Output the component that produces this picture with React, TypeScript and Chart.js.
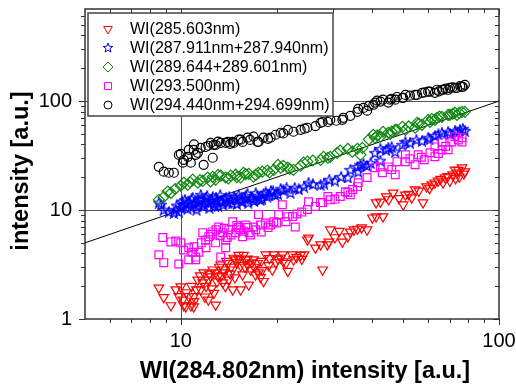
import React, { useEffect, useRef } from 'react';
import { Chart, registerables } from 'chart.js';

Chart.register(...registerables);

const FONT = "'Liberation Sans', Arial, sans-serif";

const seriesLabels = [
  'WI(285.603nm)',
  'WI(287.911nm+287.940nm)',
  'WI(289.644+289.601nm)',
  'WI(293.500nm)',
  'WI(294.440nm+294.699nm)',
];
const seriesColors = ['#ff0000', '#0000ff', '#108a10', '#ff00ff', '#000000'];
const xTickLabels = ['10', '100'];
const yTickLabels = ['1', '10', '100'];
const xTitle = 'WI(284.802nm) intensity [a.u.]';
const yTitle = 'intensity [a.u.]';
const xRange = [5, 100];
const yRange = [1, 700];
const xMinorTicks = [6, 7, 8, 9, 20, 30, 40, 50, 60, 70, 80, 90];
const xMajorTicks = [10, 100];
const yMinorTicks = [2, 3, 4, 5, 6, 7, 8, 9, 20, 30, 40, 50, 60, 70, 80, 90, 200, 300, 400, 500, 600];
const yMajorTicks = [1, 10, 100];
const xGrid = [10];
const yGrid = [10, 100];
const fitLine: [number, number][] = [[5, 5], [100, 100]];

const wi285603: [number, number][] = [
  [8.53, 1.93], [8.84, 1.58], [9.31, 1.33], [9.65, 1.86], [9.86, 1.61], [10.0, 1.98], [10.15, 1.5],
  [10.22, 1.33], [10.37, 1.3], [10.75, 1.33], [10.98, 1.61], [10.98, 1.3], [10.6, 1.61], [11.2, 1.86],
  [11.3, 2.29], [11.55, 1.86], [11.72, 2.16], [11.8, 2.67], [12.2, 1.5], [12.2, 2.29], [12.42, 2.45],
  [12.6, 2.83], [12.7, 1.73], [12.87, 1.35], [12.87, 2.67], [13.1, 2.45], [13.35, 3.15], [13.55, 2.16],
  [13.6, 2.83], [13.7, 2.67], [14.05, 3.25], [14.15, 2.29], [14.56, 1.86], [14.56, 2.83], [14.67, 3.63],
  [14.88, 3.5], [15.2, 3.56], [15.2, 3.86], [15.42, 3.1], [15.42, 1.86], [15.64, 2.55], [15.75, 3.86],
  [16.0, 3.5], [16.22, 3.56], [16.22, 3.15], [16.34, 2.06], [16.57, 2.83], [16.93, 3.5], [17.17, 2.55],
  [17.42, 3.25], [17.55, 2.67], [17.81, 2.42], [18.2, 2.22], [18.5, 3.89], [18.9, 3.1], [19.4, 2.83],
  [19.6, 3.89], [20.2, 3.56], [20.6, 3.65], [21.0, 3.36], [21.4, 3.25], [21.7, 2.75], [22.4, 3.89],
  [22.6, 3.5], [23.8, 3.86], [24.4, 3.9], [25.0, 5.34], [25.2, 5.56], [27.5, 4.81], [27.9, 2.83],
  [28.9, 4.81], [29.5, 6.6], [29.2, 5.1], [32.2, 5.1], [33.5, 5.7], [34.1, 6.3], [35.0, 6.6],
  [35.9, 6.7], [38.5, 6.6], [41.1, 8.7], [43.2, 8.7], [41.1, 11.7], [42.4, 11.9], [44.2, 13.3],
  [46.5, 14.4], [50.0, 11.2], [50.8, 13.8], [53.2, 13.0], [54.5, 15.4], [57.7, 11.7], [59.2, 16.4],
  [61.5, 17.1], [62.9, 17.8], [64.3, 18.5], [66.7, 17.8], [67.7, 19.9], [70.1, 18.5], [71.5, 21.1],
  [72.7, 23.4], [73.8, 22.0], [75.0, 20.2], [76.5, 24.5], [78.1, 22.5],
  [10.4, 1.75], [10.8, 2.0], [11.0, 1.45], [11.5, 2.5], [11.9, 1.6], [12.0, 2.0], [12.3, 2.6],
  [12.5, 1.9], [13.0, 2.2], [13.2, 3.0], [13.4, 2.5], [13.8, 2.0], [13.9, 3.4], [14.3, 2.6],
  [14.4, 3.0], [14.8, 2.4], [15.0, 3.3], [15.9, 3.0], [16.7, 3.3], [17.0, 3.0], [17.9, 3.4],
  [18.0, 2.8], [19.0, 3.6], [19.9, 3.3], [20.9, 3.9], [23.1, 3.7], [24.0, 3.55], [26.5, 4.5],
  [30.5, 5.6], [31.5, 6.4], [37.0, 6.9], [40.0, 8.5], [45.0, 12.5], [48.5, 12.8], [52.0, 14.0],
  [56.0, 15.0], [60.5, 15.8], [65.5, 19.2], [69.0, 20.4], [73.0, 19.5], [77.5, 21.5], [74.5, 23.2],
];

const wi287911: [number, number][] = [
  [8.53, 11.7], [8.66, 11.2], [8.84, 10.07], [9.17, 9.65], [9.51, 9.45], [9.65, 10.07], [9.86, 9.65],
  [10.0, 10.5], [10.15, 11.2], [10.3, 12.4], [10.5, 10.3], [10.6, 11.7], [10.75, 10.7], [10.9, 13.0],
  [11.0, 11.4], [11.2, 10.1], [11.4, 12.4], [11.55, 13.8], [11.7, 10.9], [11.9, 11.9], [12.1, 13.5],
  [12.3, 10.5], [12.5, 12.4], [12.7, 11.4], [12.9, 13.0], [13.1, 10.9], [13.35, 12.1], [13.6, 11.2],
  [13.9, 13.0], [14.1, 11.7], [14.4, 12.4], [14.7, 13.3], [15.0, 11.4], [15.3, 12.7], [15.6, 11.9],
  [16.0, 13.5], [16.3, 11.7], [16.6, 13.0], [17.0, 12.1], [17.4, 13.5], [17.8, 12.4], [18.2, 14.1],
  [18.7, 13.3], [19.2, 15.0], [19.8, 13.8], [20.6, 15.7], [21.5, 16.0], [22.1, 14.4], [22.8, 16.0],
  [24.4, 16.4], [25.2, 17.8], [27.5, 17.1], [28.2, 17.5], [29.3, 19.0], [31.9, 20.2], [33.5, 19.9],
  [34.1, 23.4], [35.9, 24.9], [36.1, 22.5], [36.7, 26.0], [38.5, 25.5], [40.8, 33.5], [42.4, 28.4],
  [42.4, 36.5], [44.2, 35.7], [44.9, 37.2], [47.2, 34.3], [49.7, 39.7], [50.8, 42.2], [55.0, 44.2],
  [57.3, 43.2], [59.9, 46.1], [62.9, 48.0], [66.2, 51.2], [69.2, 52.3], [70.1, 50.1], [72.7, 53.4],
  [75.4, 54.5], [77.0, 55.7], [78.1, 53.4],
  [9.7, 11.0], [10.1, 12.0], [10.4, 11.4], [10.8, 12.6], [11.1, 12.0], [11.3, 10.8], [11.6, 12.7],
  [11.8, 11.3], [12.0, 12.9], [12.2, 11.6], [12.6, 13.2], [12.8, 10.9], [13.0, 12.3], [13.3, 13.7],
  [13.5, 11.8], [13.8, 12.5], [14.2, 13.2], [14.5, 11.5], [14.9, 12.6], [15.2, 13.8], [15.5, 12.2],
  [15.9, 12.8], [16.2, 14.1], [16.8, 12.6], [17.2, 14.3], [17.6, 13.0], [18.0, 12.7], [18.5, 14.5],
  [19.0, 13.6], [19.5, 14.8], [20.2, 14.0], [21.0, 15.2], [23.5, 15.5], [26.0, 17.3], [30.5, 18.6],
  [37.5, 26.5], [39.5, 27.0], [46.0, 37.8], [52.5, 41.5], [60.5, 44.5], [64.5, 49.5], [73.5, 51.5],
];

const wi289644: [number, number][] = [
  [8.53, 12.4], [8.84, 13.2], [9.1, 14.8], [9.31, 14.4], [10.0, 16.7], [10.22, 17.8], [10.52, 17.1],
  [10.9, 19.0], [11.31, 17.8], [11.72, 18.5], [12.15, 19.9], [12.6, 20.2], [12.87, 19.0], [13.35, 20.7],
  [13.84, 19.9], [14.35, 20.7], [14.88, 21.1], [15.42, 19.9], [15.75, 22.0], [16.34, 21.5], [16.93, 20.2],
  [17.55, 22.0], [18.05, 22.5], [18.7, 23.0], [19.6, 23.4], [20.2, 26.0], [20.6, 24.5], [21.7, 24.5],
  [22.6, 23.4], [23.8, 25.5], [24.3, 27.2], [25.0, 27.8], [27.5, 28.9], [28.1, 30.8], [29.0, 30.2],
  [29.5, 30.8], [31.7, 35.1], [33.5, 36.5], [34.6, 34.3], [35.9, 36.5], [36.7, 32.1], [37.2, 37.2],
  [40.3, 49.1], [40.8, 46.1], [42.4, 47.1], [43.2, 52.3], [44.9, 51.2], [45.5, 50.1], [47.2, 54.5],
  [47.8, 54.5], [49.7, 58.0], [50.8, 54.5], [54.5, 56.9], [55.3, 63.0], [57.3, 60.6], [59.9, 67.3],
  [60.7, 64.3], [62.9, 67.3], [63.8, 70.2], [66.2, 71.6], [69.2, 74.8], [70.1, 74.8], [72.7, 78.2],
  [73.8, 74.8], [76.5, 79.7], [78.1, 79.7],
  [9.6, 15.6], [10.7, 18.0], [11.5, 18.8], [12.4, 18.3], [13.1, 21.0], [14.1, 19.5], [15.0, 20.0],
  [16.0, 21.3], [17.2, 21.0], [19.0, 22.2], [21.0, 25.5], [22.0, 23.8], [26.0, 28.5], [31.0, 33.5],
  [39.0, 44.5], [41.5, 48.5], [46.0, 52.5], [52.0, 58.5], [56.0, 62.0], [61.5, 68.5], [65.0, 72.0],
  [71.5, 76.5], [75.0, 78.0],
];

const wi293500: [number, number][] = [
  [8.53, 3.89], [8.84, 3.29], [8.78, 5.6], [9.31, 5.1], [9.65, 5.2], [9.86, 3.2], [10.0, 5.0],
  [10.2, 4.3], [10.59, 4.5], [10.59, 3.5], [10.9, 4.1], [11.14, 3.7], [11.14, 3.5], [11.4, 4.1],
  [11.72, 6.2], [11.97, 5.3], [12.24, 5.7], [12.6, 6.3], [12.87, 5.0], [13.15, 7.0], [13.55, 6.2],
  [13.84, 5.3], [13.84, 4.5], [13.35, 3.7], [14.15, 6.6], [14.56, 7.8], [14.88, 6.2], [15.2, 6.9],
  [15.64, 5.7], [15.42, 6.6], [16.22, 6.9], [16.57, 5.9], [16.93, 7.0], [17.55, 9.1], [17.81, 7.3],
  [18.46, 7.6], [19.15, 7.3], [19.6, 7.8], [20.3, 9.1], [20.85, 11.2], [21.4, 7.8], [21.7, 8.7],
  [22.45, 8.7], [22.9, 7.0], [24.0, 9.6], [25.0, 10.1], [25.2, 11.9], [27.5, 11.7], [27.9, 11.7],
  [29.0, 13.3], [29.5, 12.4], [31.7, 13.3], [32.9, 14.7], [34.1, 13.8], [34.7, 15.4], [35.9, 16.4],
  [36.1, 17.8], [38.5, 19.9], [40.8, 24.5], [42.4, 24.9], [44.9, 24.9], [47.2, 21.1], [47.8, 27.8],
  [50.8, 32.1], [50.8, 27.8], [54.5, 26.0], [55.7, 32.1], [58.2, 28.9], [60.7, 33.5], [62.9, 30.8],
  [62.9, 38.0], [66.2, 35.7], [66.2, 42.2], [69.2, 35.7], [71.1, 42.2], [72.7, 47.1], [76.5, 46.1],
  [76.5, 42.2],
  [11.0, 4.6], [11.6, 5.0], [12.0, 4.5], [12.4, 6.0], [12.9, 6.6], [13.3, 5.8], [13.7, 6.8],
  [14.0, 5.6], [14.4, 5.9], [15.0, 7.2], [15.8, 6.4], [16.0, 7.3], [16.4, 6.2], [17.2, 6.6],
  [17.9, 6.3], [18.8, 6.9], [20.0, 7.6], [23.2, 9.2], [26.5, 10.8], [30.5, 12.6], [33.5, 14.5],
  [43.0, 22.0], [46.0, 23.5], [52.5, 29.5], [57.0, 30.5], [64.5, 33.0], [68.0, 38.5], [74.5, 44.0],
];

const wi294440: [number, number][] = [
  [8.53, 24.9], [8.84, 22.5], [9.17, 22.0], [9.51, 22.0], [9.86, 32.1], [10.0, 32.8], [10.15, 27.2],
  [10.22, 28.9], [10.52, 30.8], [10.59, 35.7], [10.75, 27.2], [10.98, 35.7], [11.14, 32.1], [11.31, 33.5],
  [11.55, 37.2], [11.8, 26.0], [11.97, 37.9], [12.42, 41.3], [12.6, 30.2], [12.69, 39.7], [12.87, 39.7],
  [13.35, 41.3], [13.84, 41.3], [14.05, 42.2], [14.56, 42.2], [14.67, 41.3], [15.2, 44.2], [15.42, 44.2],
  [15.64, 42.2], [16.22, 46.1], [16.93, 47.1], [17.42, 42.2], [17.55, 42.2], [18.2, 46.1], [19.15, 46.1],
  [19.86, 49.1], [20.6, 51.2], [21.7, 54.5], [22.6, 52.3], [23.8, 54.5], [25.0, 56.9], [27.5, 63.0],
  [27.9, 64.3], [29.0, 64.3], [29.5, 67.3], [32.2, 67.3], [32.4, 70.2], [34.1, 73.3], [35.9, 79.7],
  [36.1, 84.8], [38.5, 81.6], [40.3, 92.5], [40.8, 96.8], [41.4, 101], [42.4, 99], [43.2, 103],
  [44.9, 96.8], [45.5, 103], [47.2, 103], [47.8, 109], [49.7, 107], [50.0, 107], [50.8, 114],
  [54.5, 114], [55.3, 114], [57.3, 119], [59.9, 122], [60.7, 122], [62.9, 119], [63.8, 127],
  [66.2, 127], [66.7, 127], [69.2, 127], [70.1, 132], [72.7, 132], [73.8, 132], [76.5, 135],
  [77.0, 135], [78.1, 141],
  [11.0, 40.0], [12.2, 38.9], [13.1, 42.5], [14.3, 40.5], [16.5, 44.0], [18.8, 45.0], [21.0, 50.5],
  [24.5, 55.8], [26.5, 59.0], [30.8, 66.0], [37.5, 86.5], [39.0, 90.5], [46.0, 105], [52.5, 112],
  [58.5, 120], [64.8, 123], [68.0, 130], [71.5, 134], [75.5, 137],
];

const seriesData = [wi285603, wi287911, wi289644, wi293500, wi294440];

function starPath(ctx: CanvasRenderingContext2D, cx: number, cy: number, ro: number, ri: number) {
  ctx.beginPath();
  for (let i = 0; i < 10; i++) {
    const r = i % 2 === 0 ? ro : ri;
    const a = -Math.PI / 2 + (i * Math.PI) / 5;
    const px = cx + r * Math.cos(a);
    const py = cy + r * Math.sin(a);
    if (i === 0) ctx.moveTo(px, py);
    else ctx.lineTo(px, py);
  }
  ctx.closePath();
}

function makeStar(color: string) {
  const c = document.createElement('canvas');
  c.width = 12;
  c.height = 12;
  const g = c.getContext('2d')!;
  g.strokeStyle = color;
  g.lineWidth = 1.2;
  starPath(g, 6, 6.5, 5.5, 2.3);
  g.stroke();
  return c;
}

function drawMarker(ctx: CanvasRenderingContext2D, idx: number, x: number, y: number) {
  ctx.save();
  ctx.strokeStyle = seriesColors[idx];
  ctx.lineWidth = 1;
  ctx.beginPath();
  if (idx === 0) {
    const r = 5;
    ctx.moveTo(x - r * 0.866, y - r * 0.5);
    ctx.lineTo(x + r * 0.866, y - r * 0.5);
    ctx.lineTo(x, y + r);
    ctx.closePath();
    ctx.stroke();
  } else if (idx === 1) {
    starPath(ctx, x, y, 5, 2.1);
    ctx.stroke();
  } else if (idx === 2) {
    const r = 5;
    ctx.moveTo(x, y - r);
    ctx.lineTo(x + r, y);
    ctx.lineTo(x, y + r);
    ctx.lineTo(x - r, y);
    ctx.closePath();
    ctx.stroke();
  } else if (idx === 3) {
    ctx.rect(x - 3.5, y - 3.5, 7, 7);
    ctx.stroke();
  } else {
    ctx.arc(x, y, 4, 0, Math.PI * 2);
    ctx.stroke();
  }
  ctx.restore();
}

const framePlugin = {
  id: 'frame',
  beforeDatasetsDraw(chart: any) {
    const { ctx, chartArea } = chart;
    const xs = chart.scales.x;
    const ys = chart.scales.y;
    const { left, right, top, bottom } = chartArea;
    ctx.save();
    ctx.strokeStyle = '#555';
    ctx.lineWidth = 1;
    ctx.beginPath();
    xGrid.forEach((v) => {
      const p = Math.round(xs.getPixelForValue(v)) + 0.5;
      ctx.moveTo(p, top);
      ctx.lineTo(p, bottom);
    });
    yGrid.forEach((v) => {
      const p = Math.round(ys.getPixelForValue(v)) + 0.5;
      ctx.moveTo(left, p);
      ctx.lineTo(right, p);
    });
    ctx.stroke();

    ctx.strokeStyle = '#333';
    ctx.lineWidth = 1;
    ctx.beginPath();
    const tick = (vals: number[], len: number) => {
      vals.forEach((v) => {
        const px = Math.round(xs.getPixelForValue(v)) + 0.5;
        ctx.moveTo(px, bottom);
        ctx.lineTo(px, bottom + len);
        ctx.moveTo(px, top);
        ctx.lineTo(px, top + len);
      });
    };
    tick(xMinorTicks, 4);
    tick(xMajorTicks, 6);
    const ytick = (vals: number[], len: number) => {
      vals.forEach((v) => {
        const py = Math.round(ys.getPixelForValue(v)) + 0.5;
        ctx.moveTo(left, py);
        ctx.lineTo(left - len, py);
        ctx.moveTo(right, py);
        ctx.lineTo(right - len, py);
      });
    };
    ytick(yMinorTicks, 4);
    ytick(yMajorTicks, 6);
    ctx.stroke();
    ctx.lineWidth = 1.5;
    ctx.strokeRect(left, top, right - left, bottom - top);
    ctx.restore();
  },
  afterDraw(chart: any) {
    const { ctx } = chart;
    ctx.save();
    const bx = 88, by = 13, bw = 245, bh = 103;
    ctx.fillStyle = '#fff';
    ctx.fillRect(bx, by, bw, bh);
    ctx.strokeStyle = '#444';
    ctx.lineWidth = 1.5;
    ctx.strokeRect(bx, by, bw, bh);
    ctx.font = `16px ${FONT}`;
    ctx.textBaseline = 'middle';
    ctx.textAlign = 'left';
    seriesLabels.forEach((lab, i) => {
      const y = 29 + i * 19;
      drawMarker(ctx, i, 108, y);
      ctx.fillStyle = '#000';
      ctx.fillText(lab, 130, y + 1);
    });
    ctx.fillStyle = '#000';
    ctx.font = `bold 23.5px ${FONT}`;
    ctx.textAlign = 'center';
    ctx.textBaseline = 'middle';
    ctx.fillText(xTitle, 305, 372);
    ctx.translate(22, 171);
    ctx.rotate(-Math.PI / 2);
    ctx.fillText(yTitle, 0, 0);
    ctx.restore();
  },
};

export default function App() {
  const ref = useRef<HTMLCanvasElement | null>(null);
  useEffect(() => {
    if (!ref.current) return;
    const star = makeStar(seriesColors[1]);
    const styles: any[] = ['triangle', star, 'rectRot', 'rect', 'circle'];
    const radii = [5.5, 5.5, 5.5, 5.5, 4.5];
    const datasets: any[] = seriesData.map((d, i) => ({
      label: seriesLabels[i],
      data: d.map(([x, y]) => ({ x, y })),
      pointStyle: styles[i],
      rotation: i === 0 ? 180 : 0,
      pointRadius: radii[i],
      borderColor: seriesColors[i],
      backgroundColor: 'rgba(0,0,0,0)',
      borderWidth: 1.2,
      showLine: false,
      order: 5 - i,
    }));
    datasets.push({
      label: 'fit',
      data: fitLine.map(([x, y]) => ({ x, y })),
      showLine: true,
      pointRadius: 0,
      borderColor: '#000',
      borderWidth: 1,
      order: 10,
    });
    const chart = new Chart(ref.current, {
      type: 'scatter',
      data: { datasets },
      options: {
        animation: false,
        responsive: false,
        devicePixelRatio: 1,
        layout: { padding: { top: 9, right: 17, left: 0, bottom: 0 } },
        plugins: { legend: { display: false }, tooltip: { enabled: false } },
        scales: {
          x: {
            type: 'logarithmic',
            position: 'bottom',
            min: xRange[0],
            max: xRange[1],
            grid: { display: false, drawTicks: false },
            border: { display: false },
            ticks: {
              autoSkip: false,
              maxRotation: 0,
              padding: 10,
              color: '#000',
              font: { family: FONT, size: 20 },
              callback: (v: any) => (xTickLabels.includes(String(v)) ? String(v) : ''),
            },
            afterFit: (s: any) => {
              s.height = 67;
              s.paddingLeft = 0;
              s.paddingRight = 0;
            },
          },
          y: {
            type: 'logarithmic',
            position: 'left',
            min: yRange[0],
            max: yRange[1],
            grid: { display: false, drawTicks: false },
            border: { display: false },
            ticks: {
              autoSkip: false,
              padding: 13,
              color: '#000',
              font: { family: FONT, size: 20 },
              callback: (v: any) => (yTickLabels.includes(String(v)) ? String(v) : ''),
            },
            afterFit: (s: any) => {
              s.width = 85;
              s.paddingTop = 0;
              s.paddingBottom = 0;
            },
          },
        },
      },
      plugins: [framePlugin],
    });
    return () => chart.destroy();
  }, []);
  return (
    <div style={{ position: 'absolute', left: 0, top: 0, width: 516, height: 386, background: '#fff' }}>
      <canvas ref={ref} width={516} height={386} style={{ width: 516, height: 386, display: 'block' }} />
    </div>
  );
}
